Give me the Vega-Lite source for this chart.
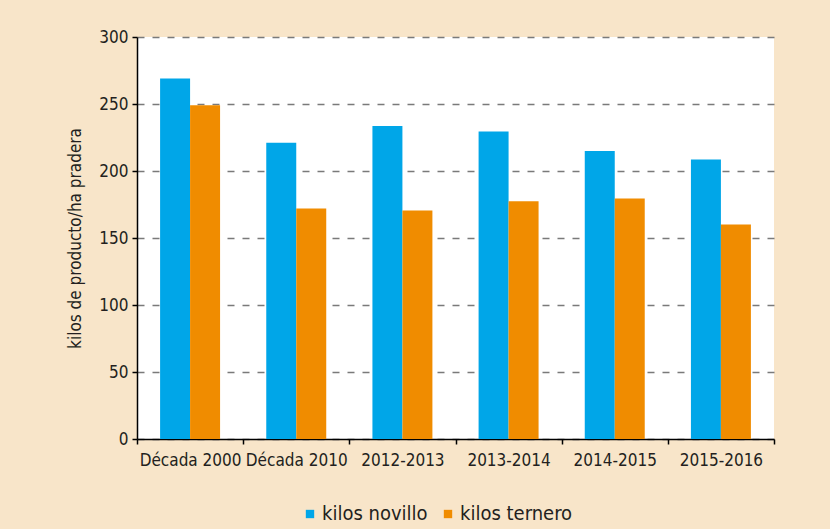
{
  "$schema": "https://vega.github.io/schema/vega-lite/v6.json",
  "width": 637,
  "height": 402,
  "autosize": {"type": "none"},
  "padding": {"left": 137, "top": 37, "right": 56, "bottom": 90},
  "background": "#F8E5C9",
  "config": {
    "view": {"fill": "white", "stroke": null},
    "font": "DejaVu Sans Condensed, sans-serif",
    "axis": {"labelColor": "#231F20", "titleColor": "#231F20", "domainColor": "#000000", "tickColor": "#000000", "labelFontSize": 17, "titleFontSize": 17, "titleFontWeight": "normal", "tickSize": 5, "domainWidth": 1.5, "tickWidth": 1.5},
    "legend": {"labelFontSize": 20, "labelColor": "#231F20"}
  },
  "data": {
    "values": [
      {"periodo": "Década 2000", "serie": "kilos novillo", "valor": 269},
      {"periodo": "Década 2000", "serie": "kilos ternero", "valor": 249},
      {"periodo": "Década 2010", "serie": "kilos novillo", "valor": 221},
      {"periodo": "Década 2010", "serie": "kilos ternero", "valor": 172},
      {"periodo": "2012-2013", "serie": "kilos novillo", "valor": 233.5},
      {"periodo": "2012-2013", "serie": "kilos ternero", "valor": 170.5},
      {"periodo": "2013-2014", "serie": "kilos novillo", "valor": 229.5},
      {"periodo": "2013-2014", "serie": "kilos ternero", "valor": 177.5},
      {"periodo": "2014-2015", "serie": "kilos novillo", "valor": 215},
      {"periodo": "2014-2015", "serie": "kilos ternero", "valor": 179.5},
      {"periodo": "2015-2016", "serie": "kilos novillo", "valor": 208.5},
      {"periodo": "2015-2016", "serie": "kilos ternero", "valor": 160}
    ]
  },
  "mark": {"type": "bar"},
  "encoding": {
    "x": {
      "field": "periodo", "type": "nominal", "sort": null,
      "scale": {"paddingInner": 0, "paddingOuter": 0},
      "axis": {"title": null, "labelAngle": 0, "tickBand": "extent", "labelPadding": 8, "grid": false}
    },
    "xOffset": {
      "field": "serie", "type": "nominal",
      "scale": {"domain": ["kilos novillo", "kilos ternero"], "paddingInner": 0, "paddingOuter": 0.77}
    },
    "y": {
      "field": "valor", "type": "quantitative",
      "scale": {"domain": [0, 300]},
      "axis": {"title": "kilos de producto/ha pradera", "values": [0, 50, 100, 150, 200, 250, 300], "grid": true, "gridDash": [7, 8], "gridColor": "#7a7a7a", "gridWidth": 1.5, "titlePadding": 14, "labelPadding": 4}
    },
    "color": {
      "field": "serie", "type": "nominal",
      "scale": {"domain": ["kilos novillo", "kilos ternero"], "range": ["#00A6E8", "#F08C00"]},
      "legend": {"title": null, "orient": "none", "legendX": 163, "legendY": 467, "direction": "horizontal", "symbolType": "square", "symbolSize": 70, "symbolStrokeWidth": 0, "columnPadding": 10, "labelOffset": 2}
    }
  }
}
